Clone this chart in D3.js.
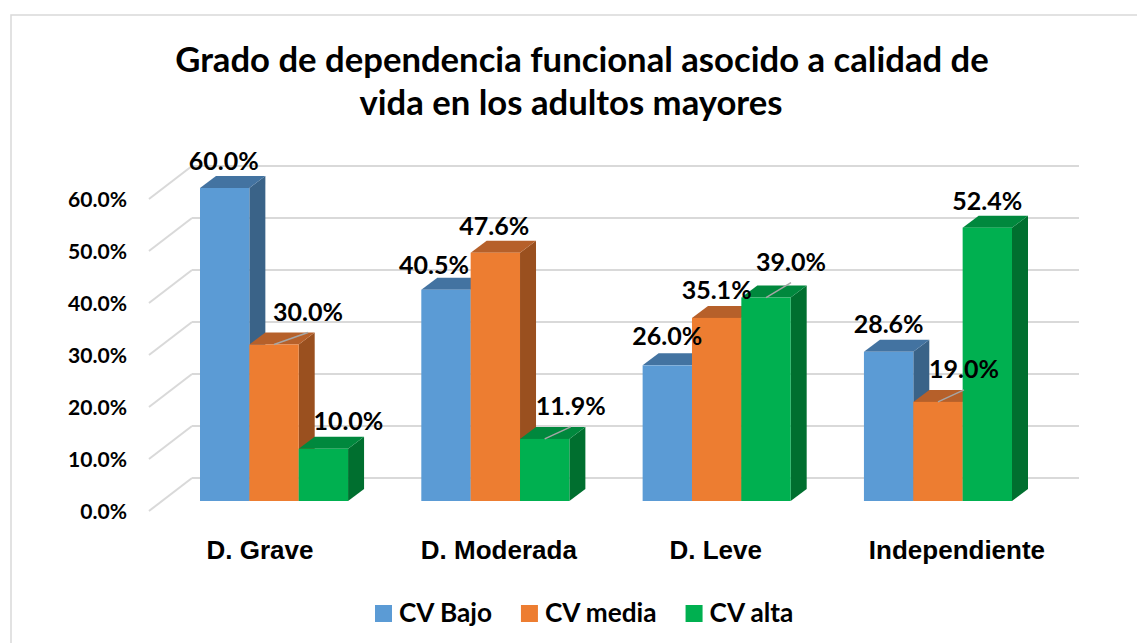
<!DOCTYPE html>
<html>
<head>
<meta charset="utf-8">
<script src="https://cdn.jsdelivr.net/npm/d3@7"></script>
<style>
  html, body { margin: 0; padding: 0; background: #ffffff; }
  svg { display: block; }
</style>
</head>
<body>
<script>
// ---------------- DATA ----------------
const titleLines = ["Grado de dependencia funcional asocido a calidad de", "vida en los adultos mayores"];
const categories = ["D. Grave", "D. Moderada", "D. Leve", "Independiente"];
const seriesNames = ["CV Bajo", "CV media", "CV alta"];
const cvBajo  = [60.0, 40.5, 26.0, 28.6];
const cvMedia = [30.0, 47.6, 35.1, 19.0];
const cvAlta  = [10.0, 11.9, 39.0, 52.4];
const yTicks = [0, 10, 20, 30, 40, 50, 60];

// ---------------- LAYOUT / STYLE ----------------
const W = 1137, H = 643;
const colors = {
  "CV Bajo":  { front: "#5B9BD5", top: "#4373A1", side: "#3A6388" },
  "CV media": { front: "#ED7D31", top: "#B6602A", side: "#9A501F" },
  "CV alta":  { front: "#00B050", top: "#00883D", side: "#006F2F" }
};
const DX = 16, DY = 12;           // bar depth
const WALL_X0 = 192, WALL_X1 = 1079, FRONT_X = 149;
// data label offsets (dx, dy to baseline) from bar front-top centre, per series per category
const labelOffsets = {
  "CV Bajo":  [[-1, -18], [-12, -16], [0, -20], [0, -19]],
  "CV media": [[34, -24], [-1, -18],  [0, -19], [26, -24]],
  "CV alta":  [[25, -19], [26, -24],  [25, -27], [0, -18]]
};
const leaderFlags = {
  "CV Bajo":  [false, false, false, false],
  "CV media": [true, false, false, true],
  "CV alta":  [false, true, true, false]
};
const catNudge = [-14, 3.5, -1, 19];
const CAL = "Lato, 'Open Sans', sans-serif";

const seriesValues = { "CV Bajo": cvBajo, "CV media": cvMedia, "CV alta": cvAlta };

const svg = d3.select("body").append("svg").attr("width", W).attr("height", H);
svg.append("rect").attr("width", W).attr("height", H).attr("fill", "#fff");
svg.append("rect").attr("x", 11).attr("y", 15).attr("width", W + 50).attr("height", H + 50)
  .attr("fill", "none").attr("stroke", "#D9D9D9").attr("stroke-width", 1.5);

function fitWidth(sel, target) {
  const node = sel.node();
  const fs = parseFloat(sel.attr("font-size"));
  const w = node.getComputedTextLength();
  const nf = fs * target / w;
  return nf;
}

// ---------------- SCALES ----------------
const x0 = d3.scaleBand().domain(categories).range([200, 1012]).paddingInner(0.331).paddingOuter(0);
const x1 = d3.scaleBand().domain(seriesNames).range([0, x0.bandwidth()]);
const yBar = d3.scaleLinear().domain([0, 60]).range([501, 188]);
const yBack = d3.scaleLinear().domain([0, 60]).range([478, 166]);
const yFront = d3.scaleLinear().domain([0, 60]).range([511, 199]);

// ---------------- TITLE ----------------
const titleX = [582, 571], titleY = [72, 115];
const t0 = svg.append("text").attr("font-family", CAL).attr("font-weight", 700).attr("font-size", 30).text(titleLines[0]);
const titleFs = fitWidth(t0, 814);
t0.remove();
svg.selectAll("text.title").data(titleLines).join("text").attr("class", "title")
  .attr("x", (d, i) => titleX[i]).attr("y", (d, i) => titleY[i])
  .attr("text-anchor", "middle").attr("font-family", CAL).attr("font-weight", 700)
  .attr("font-size", titleFs).attr("fill", "#000").text(d => d);

// ---------------- GRID ----------------
const grid = svg.append("g");
grid.selectAll("line.h").data(yTicks).join("line").attr("class", "h")
  .attr("x1", WALL_X0).attr("x2", WALL_X1)
  .attr("y1", d => yBack(d)).attr("y2", d => yBack(d))
  .attr("stroke", "#D9D9D9").attr("stroke-width", 2);
grid.selectAll("line.d").data(yTicks).join("line").attr("class", "d")
  .attr("x1", FRONT_X).attr("x2", WALL_X0)
  .attr("y1", d => yFront(d)).attr("y2", d => yBack(d))
  .attr("stroke", "#D9D9D9").attr("stroke-width", 2);

// ---------------- Y LABELS ----------------
const ytmp = svg.append("text").attr("font-family", CAL).attr("font-weight", 700).attr("font-size", 20).text("60.0%");
const yFs = fitWidth(ytmp, 59);
ytmp.remove();
svg.selectAll("text.ytick").data(yTicks).join("text").attr("class", "ytick")
  .attr("x", 127).attr("y", d => yFront(d) + 1)
  .attr("dy", "0.35em").attr("text-anchor", "end")
  .attr("font-family", CAL).attr("font-weight", 700).attr("font-size", yFs)
  .attr("fill", "#000").text(d => d3.format(".1f")(d) + "%");

// ---------------- BARS ----------------
const barsG = svg.append("g");
const barData = [];
categories.forEach((c, ci) => {
  seriesNames.forEach((s) => {
    barData.push({ cat: c, ci, series: s, value: seriesValues[s][ci] });
  });
});
const bar = barsG.selectAll("g.bar").data(barData).join("g").attr("class", "bar");
bar.each(function (d) {
  const g = d3.select(this);
  const x = x0(d.cat) + x1(d.series), w = x1.bandwidth();
  const yt = yBar(d.value), yb = yBar(0);
  const c = colors[d.series];
  g.append("polygon")
    .attr("points", [[x + w, yt], [x + w + DX, yt - DY], [x + w + DX, yb - DY], [x + w, yb]].join(" "))
    .attr("fill", c.side);
  g.append("polygon")
    .attr("points", [[x, yt], [x + DX, yt - DY], [x + w + DX, yt - DY], [x + w, yt]].join(" "))
    .attr("fill", c.top);
  g.append("rect").attr("x", x).attr("y", yt).attr("width", w).attr("height", yb - yt)
    .attr("fill", c.front);
});

// ---------------- DATA LABELS ----------------
const ltmp = svg.append("text").attr("font-family", CAL).attr("font-weight", 700).attr("font-size", 24).text("60.0%");
const lFs = fitWidth(ltmp, 70);
ltmp.remove();
const labG = svg.append("g");
barData.forEach(d => {
  const x = x0(d.cat) + x1(d.series), w = x1.bandwidth();
  const cx = x + w / 2, yt = yBar(d.value);
  const off = labelOffsets[d.series][d.ci];
  const lx = cx + off[0], ly = yt + off[1];
  if (leaderFlags[d.series][d.ci]) {
    labG.append("line").attr("x1", cx).attr("y1", yt).attr("x2", lx).attr("y2", ly + 12)
      .attr("stroke", "#A6A6A6").attr("stroke-width", 1.5);
  }
  labG.append("text").attr("x", lx).attr("y", ly).attr("text-anchor", "middle")
    .attr("font-family", CAL).attr("font-weight", 700).attr("font-size", lFs)
    .attr("fill", "#000").text(d3.format(".1f")(d.value) + "%");
});

// ---------------- CATEGORY LABELS ----------------
svg.selectAll("text.cat").data(categories).join("text").attr("class", "cat")
  .attr("x", (d, i) => x0(d) + x0.bandwidth() / 2 + catNudge[i]).attr("y", 559)
  .attr("text-anchor", "middle")
  .attr("font-family", "'Liberation Sans', Arial, sans-serif").attr("font-weight", 700)
  .attr("font-size", 26).attr("fill", "#000").text(d => d);

// ---------------- LEGEND ----------------
const gtmp = svg.append("text").attr("font-family", CAL).attr("font-weight", 700).attr("font-size", 22).text("CV Bajo");
const gFs = fitWidth(gtmp, 93);
gtmp.remove();
const leg = svg.append("g");
let lxPos = 375;
seriesNames.forEach(s => {
  leg.append("rect").attr("x", lxPos).attr("y", 605).attr("width", 17).attr("height", 17)
    .attr("fill", colors[s].front);
  const t = leg.append("text").attr("x", lxPos + 24).attr("y", 622)
    .attr("font-family", CAL).attr("font-weight", 700).attr("font-size", gFs)
    .attr("fill", "#000").text(s);
  lxPos = lxPos + 24 + t.node().getComputedTextLength() + 29;
});
</script>
</body>
</html>
